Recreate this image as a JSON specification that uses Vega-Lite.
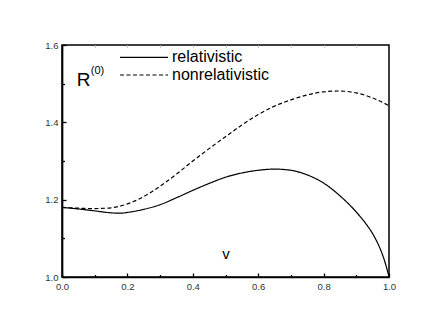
{
  "$schema": "https://vega.github.io/schema/vega-lite/v6.json",
  "width": 327,
  "height": 232,
  "autosize": {"type": "none"},
  "padding": {"left": 62, "top": 45, "right": 40, "bottom": 50},
  "background": "white",
  "config": {
    "view": {"stroke": "black", "strokeWidth": 1.5},
    "font": "Liberation Sans",
    "axis": {"grid": false, "title": null}
  },
  "datasets": {
    "curves": [
      {"v": 0.0, "R": 1.180, "series": "relativistic"},
      {"v": 0.05, "R": 1.176, "series": "relativistic"},
      {"v": 0.1, "R": 1.171, "series": "relativistic"},
      {"v": 0.15, "R": 1.166, "series": "relativistic"},
      {"v": 0.18, "R": 1.165, "series": "relativistic"},
      {"v": 0.2, "R": 1.167, "series": "relativistic"},
      {"v": 0.25, "R": 1.175, "series": "relativistic"},
      {"v": 0.3, "R": 1.187, "series": "relativistic"},
      {"v": 0.35, "R": 1.205, "series": "relativistic"},
      {"v": 0.4, "R": 1.224, "series": "relativistic"},
      {"v": 0.45, "R": 1.242, "series": "relativistic"},
      {"v": 0.5, "R": 1.258, "series": "relativistic"},
      {"v": 0.55, "R": 1.269, "series": "relativistic"},
      {"v": 0.6, "R": 1.276, "series": "relativistic"},
      {"v": 0.65, "R": 1.279, "series": "relativistic"},
      {"v": 0.7, "R": 1.276, "series": "relativistic"},
      {"v": 0.75, "R": 1.264, "series": "relativistic"},
      {"v": 0.8, "R": 1.243, "series": "relativistic"},
      {"v": 0.85, "R": 1.210, "series": "relativistic"},
      {"v": 0.9, "R": 1.168, "series": "relativistic"},
      {"v": 0.93, "R": 1.137, "series": "relativistic"},
      {"v": 0.95, "R": 1.112, "series": "relativistic"},
      {"v": 0.97, "R": 1.079, "series": "relativistic"},
      {"v": 0.98, "R": 1.058, "series": "relativistic"},
      {"v": 0.99, "R": 1.032, "series": "relativistic"},
      {"v": 1.0, "R": 1.0, "series": "relativistic"},
      {"v": 0.0, "R": 1.180, "series": "nonrelativistic"},
      {"v": 0.05, "R": 1.178, "series": "nonrelativistic"},
      {"v": 0.1, "R": 1.177, "series": "nonrelativistic"},
      {"v": 0.15, "R": 1.179, "series": "nonrelativistic"},
      {"v": 0.2, "R": 1.189, "series": "nonrelativistic"},
      {"v": 0.25, "R": 1.208, "series": "nonrelativistic"},
      {"v": 0.3, "R": 1.235, "series": "nonrelativistic"},
      {"v": 0.35, "R": 1.266, "series": "nonrelativistic"},
      {"v": 0.4, "R": 1.300, "series": "nonrelativistic"},
      {"v": 0.45, "R": 1.332, "series": "nonrelativistic"},
      {"v": 0.5, "R": 1.363, "series": "nonrelativistic"},
      {"v": 0.55, "R": 1.393, "series": "nonrelativistic"},
      {"v": 0.6, "R": 1.420, "series": "nonrelativistic"},
      {"v": 0.65, "R": 1.442, "series": "nonrelativistic"},
      {"v": 0.7, "R": 1.458, "series": "nonrelativistic"},
      {"v": 0.75, "R": 1.471, "series": "nonrelativistic"},
      {"v": 0.8, "R": 1.479, "series": "nonrelativistic"},
      {"v": 0.85, "R": 1.481, "series": "nonrelativistic"},
      {"v": 0.9, "R": 1.476, "series": "nonrelativistic"},
      {"v": 0.95, "R": 1.463, "series": "nonrelativistic"},
      {"v": 1.0, "R": 1.443, "series": "nonrelativistic"}
    ],
    "one": [{"label": "annotation"}]
  },
  "layer": [
    {
      "data": {"name": "curves"},
      "mark": {"type": "line", "color": "black", "strokeWidth": 1.2, "interpolate": "monotone"},
      "encoding": {
        "x": {
          "field": "v", "type": "quantitative",
          "scale": {"domain": [0, 1], "nice": false},
          "axis": {
            "orient": "bottom", "values": [0, 0.2, 0.4, 0.6, 0.8, 1.0], "format": ".1f",
            "tickSize": -4, "tickWidth": 1.3, "tickColor": "black",
            "domainColor": "black", "domainWidth": 1.7,
            "labelPadding": 8.5, "labelFontSize": 9.5, "labelColor": "#333", "labelFlush": false
          }
        },
        "y": {
          "field": "R", "type": "quantitative",
          "scale": {"domain": [1.0, 1.6], "nice": false, "zero": false},
          "axis": {
            "orient": "left", "values": [1.0, 1.2, 1.4, 1.6], "format": ".1f",
            "tickSize": -4, "tickWidth": 1.3, "tickColor": "black",
            "domainColor": "black", "domainWidth": 1.7,
            "labelPadding": 8, "labelFontSize": 9.5, "labelColor": "#333", "labelFlush": false
          }
        },
        "strokeDash": {
          "field": "series", "type": "nominal",
          "scale": {"domain": ["relativistic", "nonrelativistic"], "range": [[1, 0], [4, 2.5]]},
          "legend": null
        },
        "detail": {"field": "series"}
      }
    },
    {
      "data": {"name": "one"},
      "mark": {"type": "text", "fontSize": 19, "align": "left", "baseline": "alphabetic", "color": "black"},
      "encoding": {
        "text": {"value": "R"},
        "x": {"datum": 0.045, "type": "quantitative",
          "axis": {"orient": "bottom", "values": [0.1, 0.3, 0.5, 0.7, 0.9], "labels": false, "domain": false,
            "tickSize": -2.5, "tickWidth": 1.3, "tickColor": "black"}},
        "y": {"datum": 1.494, "type": "quantitative",
          "axis": {"orient": "left", "values": [1.1, 1.3, 1.5], "labels": false, "domain": false,
            "tickSize": -2.5, "tickWidth": 1.3, "tickColor": "black"}}
      }
    },
    {
      "data": {"name": "one"},
      "mark": {"type": "text", "fontSize": 11, "align": "left", "baseline": "alphabetic", "color": "black"},
      "encoding": {
        "text": {"value": "(0)"},
        "x": {"datum": 0.088, "type": "quantitative",
          "axis": {"orient": "top", "values": [0.1, 0.2, 0.3, 0.4, 0.5, 0.6, 0.7, 0.8, 0.9], "labels": false, "domain": false,
            "tickSize": -2.5, "tickWidth": 1, "tickColor": "#c8c8c8"}},
        "y": {"datum": 1.526, "type": "quantitative", "axis": null}
      }
    },
    {
      "data": {"name": "one"},
      "mark": {"type": "text", "fontSize": 15, "align": "center", "baseline": "alphabetic", "color": "black"},
      "encoding": {
        "text": {"value": "v"},
        "x": {"datum": 0.5015, "type": "quantitative", "axis": null},
        "y": {"datum": 1.0453, "type": "quantitative", "axis": null}
      }
    },
    {
      "data": {"name": "one"},
      "mark": {"type": "rule", "color": "black", "strokeWidth": 1.2},
      "encoding": {
        "x": {"datum": 0.1774, "type": "quantitative", "axis": null},
        "x2": {"datum": 0.3242},
        "y": {"datum": 1.5682, "type": "quantitative", "axis": null}
      }
    },
    {
      "data": {"name": "one"},
      "mark": {"type": "rule", "color": "black", "strokeWidth": 1.2, "strokeDash": [4, 2.5]},
      "encoding": {
        "x": {"datum": 0.1774, "type": "quantitative", "axis": null},
        "x2": {"datum": 0.3242},
        "y": {"datum": 1.5224, "type": "quantitative", "axis": null}
      }
    },
    {
      "data": {"name": "one"},
      "mark": {"type": "text", "fontSize": 16, "align": "left", "baseline": "middle", "color": "black"},
      "encoding": {
        "text": {"value": "relativistic"},
        "x": {"datum": 0.3364, "type": "quantitative", "axis": null},
        "y": {"datum": 1.5682, "type": "quantitative", "axis": null}
      }
    },
    {
      "data": {"name": "one"},
      "mark": {"type": "text", "fontSize": 16, "align": "left", "baseline": "middle", "color": "black"},
      "encoding": {
        "text": {"value": "nonrelativistic"},
        "x": {"datum": 0.3364, "type": "quantitative", "axis": null},
        "y": {"datum": 1.5224, "type": "quantitative", "axis": null}
      }
    }
  ],
  "resolve": {"axis": {"x": "independent", "y": "independent"}}
}
